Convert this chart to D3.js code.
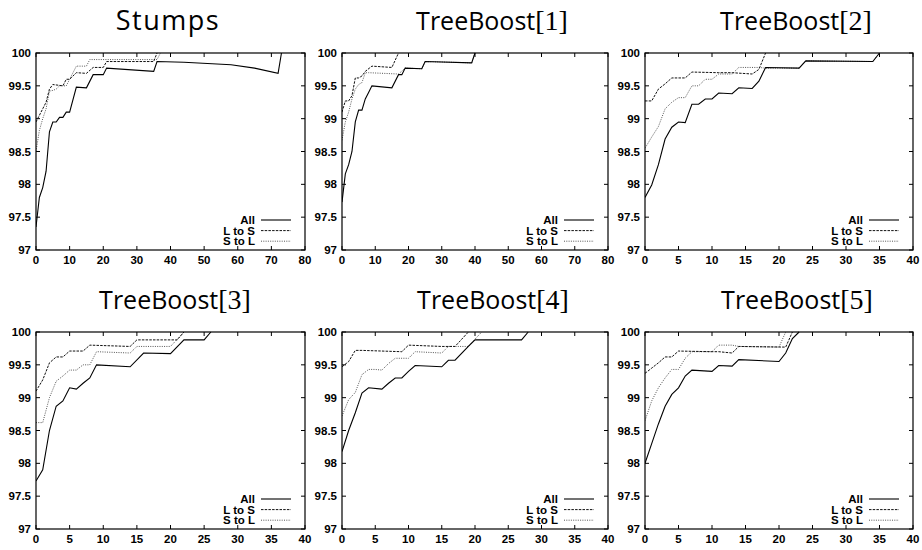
<!DOCTYPE html>
<html>
<head>
<meta charset="utf-8">
<script src="https://cdnjs.cloudflare.com/ajax/libs/d3/7.8.5/d3.min.js"></script>
<style>
  body { margin: 0; background: #fff; }
  .tick-label { font-family: "Liberation Sans", Arial, sans-serif; font-weight: bold; font-size: 11.5px; fill: #000; }
  .title { font-family: "Open Sans", sans-serif; fill: #000; }
  .title .br { font-family: "Liberation Serif", "DejaVu Serif", serif; }
</style>
</head>
<body>
<div id="chart"></div>
<script>
// ---- data ----
const panelTitles = ["Stumps", "TreeBoost[1]", "TreeBoost[2]", "TreeBoost[3]", "TreeBoost[4]", "TreeBoost[5]"];
const xMaxes = [80, 80, 40, 40, 40, 40];
const xSteps = [10, 10, 5, 5, 5, 5];
const yTicks = [97, 97.5, 98, 98.5, 99, 99.5, 100];
const legendLabels = ["All", "L to S", "S to L"];

// Stumps
const stumpsAll = [[0,97.35],[1,97.8],[2,97.95],[3,98.2],[4,98.8],[5,98.95],[6,98.95],[7,99.02],[8,99.02],[9,99.1],[10,99.1],[12,99.48],[15,99.47],[17,99.67],[20,99.67],[21,99.77],[35,99.72],[36,99.87],[44,99.86],[58,99.82],[65,99.77],[72,99.69],[73,100]];
const stumpsLtoS = [[0,98.95],[1,99.05],[2,99.15],[3,99.25],[4,99.45],[5,99.52],[8,99.5],[9,99.6],[10,99.6],[12,99.7],[15,99.69],[17,99.78],[20,99.78],[21,99.87],[35,99.87],[36,100]];
const stumpsStoL = [[0,98.5],[1,98.82],[2,99.0],[3,99.15],[4,99.42],[5,99.43],[6,99.45],[7,99.5],[9,99.5],[10,99.6],[12,99.8],[15,99.8],[16,99.9],[36,99.9],[37,100]];

// TreeBoost[1]
const tb1All = [[0,97.73],[1,98.16],[2,98.3],[3,98.5],[4,98.95],[5,99.13],[6,99.13],[7,99.3],[8,99.4],[9,99.5],[15,99.47],[17,99.67],[18,99.67],[19,99.77],[24,99.76],[25,99.87],[39,99.85],[40,100]];
const tb1LtoS = [[0,99.1],[1,99.27],[2,99.27],[3,99.35],[4,99.62],[5,99.62],[6,99.65],[7,99.72],[9,99.8],[15,99.78],[17,100]];
const tb1StoL = [[0,98.67],[1,98.95],[2,99.1],[3,99.3],[4,99.45],[5,99.52],[6,99.55],[7,99.7],[8,99.7],[17,99.68],[19,99.77],[24,99.76],[25,99.87],[39,99.85],[40,100]];

// TreeBoost[2]
const tb2All = [[0,97.8],[1,97.99],[2,98.3],[3,98.69],[4,98.87],[5,98.95],[6,98.94],[7,99.22],[8,99.22],[9,99.3],[10,99.3],[11,99.39],[13,99.38],[14,99.47],[16,99.46],[17,99.57],[18,99.78],[23,99.77],[24,99.88],[34,99.87],[35,100]];
const tb2LtoS = [[0,99.27],[1,99.27],[2,99.45],[3,99.53],[4,99.62],[5,99.62],[6,99.62],[7,99.71],[11,99.7],[13,99.7],[16,99.68],[17,99.75],[18,100]];
const tb2StoL = [[0,98.55],[1,98.72],[2,98.88],[3,99.15],[4,99.25],[5,99.32],[6,99.32],[7,99.5],[8,99.5],[9,99.6],[10,99.6],[11,99.68],[13,99.68],[14,99.78],[17,99.78],[18,99.77],[23,99.77],[24,99.88],[34,99.87],[35,100]];

// TreeBoost[3]
const tb3All = [[0,97.73],[1,97.9],[2,98.5],[3,98.87],[4,98.95],[5,99.15],[6,99.13],[7,99.22],[8,99.3],[9,99.5],[14,99.47],[16,99.68],[20,99.67],[22,99.88],[25,99.88],[26,100]];
const tb3LtoS = [[0,99.1],[1,99.27],[2,99.53],[3,99.62],[4,99.62],[5,99.71],[7,99.71],[8,99.8],[14,99.78],[15,99.88],[21,99.88],[22,100]];
const tb3StoL = [[0,98.62],[1,98.62],[2,99.0],[3,99.25],[4,99.33],[5,99.42],[6,99.42],[7,99.5],[8,99.5],[9,99.7],[14,99.68],[15,99.78],[20,99.78],[22,100]];

// TreeBoost[4]
const tb4All = [[0,98.18],[1,98.5],[2,98.77],[3,99.07],[4,99.15],[6,99.13],[7,99.22],[8,99.3],[9,99.3],[10,99.4],[11,99.49],[15,99.47],[16,99.57],[17,99.57],[19,99.78],[20,99.88],[27,99.88],[28,100]];
const tb4LtoS = [[0,99.47],[1,99.55],[2,99.72],[3,99.72],[9,99.7],[10,99.8],[15,99.78],[17,99.78],[19,100]];
const tb4StoL = [[0,98.72],[1,98.97],[2,99.08],[3,99.35],[4,99.43],[5,99.43],[6,99.42],[7,99.52],[8,99.6],[10,99.6],[11,99.7],[15,99.68],[16,99.78],[19,99.78],[21,100]];

// TreeBoost[5]
const tb5All = [[0,98.0],[1,98.3],[2,98.6],[3,98.87],[4,99.05],[5,99.15],[6,99.33],[7,99.42],[10,99.4],[11,99.49],[13,99.48],[14,99.58],[20,99.55],[21,99.68],[22,99.9],[23,100]];
const tb5LtoS = [[0,99.37],[1,99.45],[2,99.53],[3,99.62],[4,99.62],[5,99.71],[10,99.7],[11,99.7],[13,99.68],[14,99.78],[21,99.77],[22,100]];
const tb5StoL = [[0,98.65],[1,98.95],[2,99.15],[3,99.3],[4,99.43],[5,99.43],[6,99.6],[7,99.7],[10,99.7],[11,99.8],[13,99.8],[14,99.78],[20,99.77],[21,100]];

const panelSeries = [
  [stumpsAll, stumpsLtoS, stumpsStoL],
  [tb1All, tb1LtoS, tb1StoL],
  [tb2All, tb2LtoS, tb2StoL],
  [tb3All, tb3LtoS, tb3StoL],
  [tb4All, tb4LtoS, tb4StoL],
  [tb5All, tb5LtoS, tb5StoL]
];

// ---- layout ----
const W = 922, H = 550;
const colLeft = [36, 342, 645], colRight = [305, 608, 913];
const rowTop = [53, 332], rowBottom = [250, 529];
const titleX = [[168, 492, 796], [175, 493, 797]];
const tickLen = 4;

// line styles for All / L to S / S to L
const styles = [
  {stroke: "#000", dash: null, width: 1.1},
  {stroke: "#111", dash: "2.5,1.2", width: 1},
  {stroke: "#555", dash: "1,1.3", width: 1}
];

const svg = d3.select("#chart").append("svg")
  .attr("width", W)
  .attr("height", H);

panelTitles.forEach(function(title, i) {
  const col = i % 3, row = Math.floor(i / 3);
  const x0 = colLeft[col], x1 = colRight[col];
  const y0 = rowTop[row], y1 = rowBottom[row];

  const x = d3.scaleLinear().domain([0, xMaxes[i]]).range([x0, x1]);
  const y = d3.scaleLinear().domain([97, 100]).range([y1, y0]);
  const xTicks = d3.range(0, xMaxes[i] + 0.001, xSteps[i]);

  const g = svg.append("g").attr("class", "panel");

  // title: sans text with serif bracket part
  const m = title.match(/^([^\[]*)(\[.*\])?$/);
  const t = g.append("text")
    .attr("class", "title")
    .attr("x", titleX[row][col])
    .attr("y", y0 - 23)
    .attr("text-anchor", "middle")
    .style("font-size", m[2] ? "25px" : "27px")
    .style("letter-spacing", m[2] ? null : "1.5px");
  t.append("tspan").text(m[1]);
  if (m[2]) t.append("tspan").attr("class", "br").style("font-size", "28px").text(m[2]);

  // inward ticks on all four sides
  const ticks = g.append("g").attr("stroke", "#000").attr("stroke-width", 1);
  yTicks.forEach(function(v) {
    ticks.append("line").attr("x1", x0).attr("x2", x0 + tickLen).attr("y1", y(v)).attr("y2", y(v));
    ticks.append("line").attr("x1", x1).attr("x2", x1 - tickLen).attr("y1", y(v)).attr("y2", y(v));
  });
  xTicks.forEach(function(v) {
    ticks.append("line").attr("x1", x(v)).attr("x2", x(v)).attr("y1", y1).attr("y2", y1 - tickLen);
    ticks.append("line").attr("x1", x(v)).attr("x2", x(v)).attr("y1", y0).attr("y2", y0 + tickLen);
  });

  // tick labels
  g.selectAll(".ylab").data(yTicks).enter().append("text")
    .attr("class", "tick-label")
    .attr("x", x0 - 5)
    .attr("y", function(d) { return y(d) + 4; })
    .attr("text-anchor", "end")
    .text(function(d) { return d; });
  g.selectAll(".xlab").data(xTicks).enter().append("text")
    .attr("class", "tick-label")
    .attr("x", function(d) { return x(d); })
    .attr("y", y1 + 14)
    .attr("text-anchor", "middle")
    .text(function(d) { return d; });

  // clip to plot box
  const clipId = "clip" + i;
  svg.append("clipPath").attr("id", clipId)
    .append("rect").attr("x", x0).attr("y", y0 - 1).attr("width", x1 - x0).attr("height", y1 - y0 + 1);

  const line = d3.line().x(function(d) { return x(d[0]); }).y(function(d) { return y(d[1]); });

  // draw S to L first, All last
  [2, 1, 0].forEach(function(k) {
    g.append("path")
      .attr("clip-path", "url(#" + clipId + ")")
      .attr("d", line(panelSeries[i][k]))
      .attr("fill", "none")
      .attr("stroke", styles[k].stroke)
      .attr("stroke-width", styles[k].width)
      .attr("stroke-dasharray", styles[k].dash);
  });

  // legend, bottom right
  legendLabels.forEach(function(lab, k) {
    const ly = y1 - 30 + k * 10.6;
    g.append("text")
      .attr("class", "tick-label")
      .attr("x", x1 - 50)
      .attr("y", ly + 4)
      .attr("text-anchor", "end")
      .text(lab);
    g.append("line")
      .attr("x1", x1 - 44).attr("x2", x1 - 14)
      .attr("y1", ly).attr("y2", ly)
      .attr("stroke", styles[k].stroke)
      .attr("stroke-width", styles[k].width)
      .attr("stroke-dasharray", styles[k].dash);
  });

  // frame
  g.append("rect")
    .attr("x", x0).attr("y", y0)
    .attr("width", x1 - x0).attr("height", y1 - y0)
    .attr("fill", "none")
    .attr("stroke", "#000")
    .attr("stroke-width", 1.2);
});
</script>
</body>
</html>
